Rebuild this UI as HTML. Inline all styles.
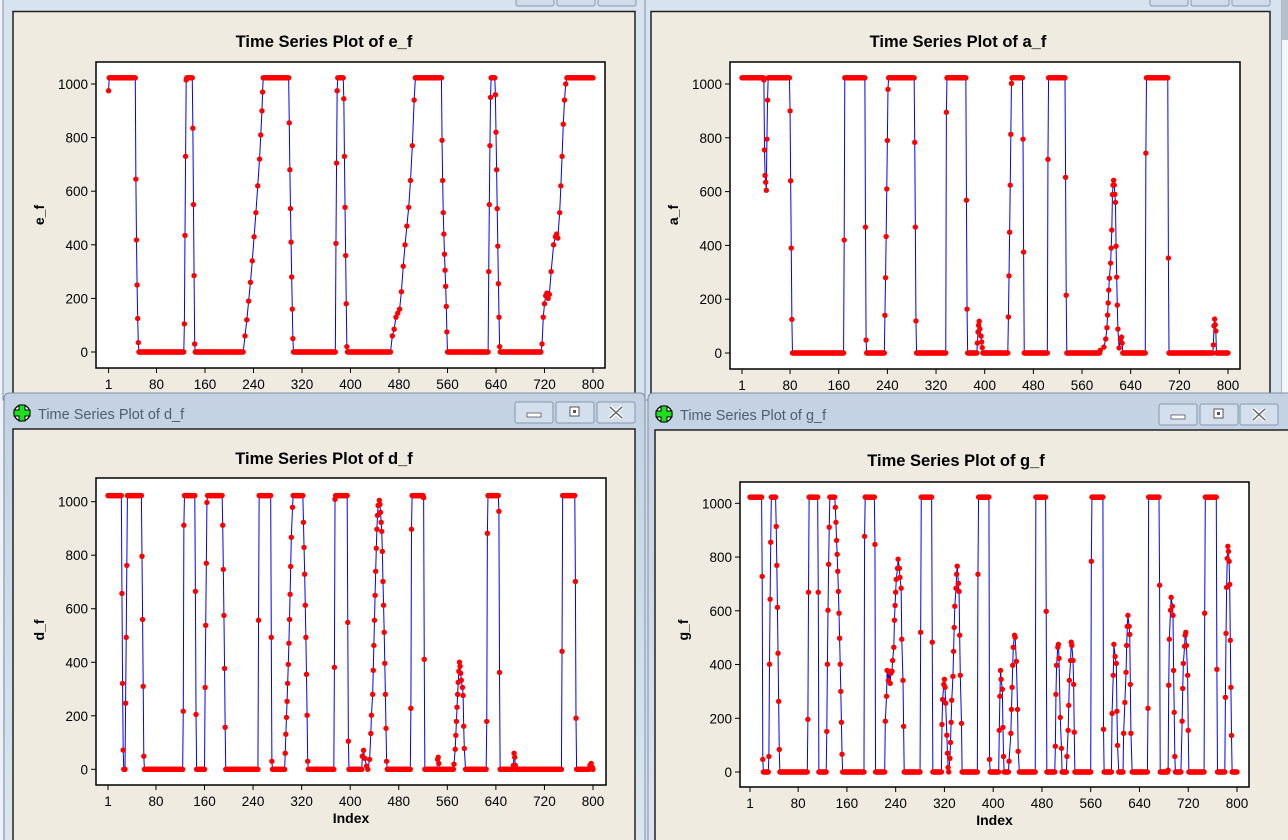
<!DOCTYPE html>
<html><head><meta charset="utf-8"><style>
html,body{margin:0;padding:0;width:1288px;height:840px;overflow:hidden;background:#d3dfec}
svg{display:block;font-family:"Liberation Sans",sans-serif}
</style></head><body>
<svg id="scr" width="1288" height="840" viewBox="0 0 1288 840" xmlns="http://www.w3.org/2000/svg">
<defs>
<linearGradient id="tb" x1="0" y1="0" x2="0" y2="1"><stop offset="0" stop-color="#c3d2e3"/><stop offset="1" stop-color="#dbe6f1"/></linearGradient>
</defs>
<rect x="0" y="0" width="1288" height="840" fill="#d3dfec"/>
<rect x="0" y="0" width="3" height="840" fill="#eef2f6"/>
<!-- top-left window -->
<g>
<rect x="3" y="-20" width="642" height="420" fill="#d7e3ef" stroke="#7f8fa3"/>
<rect x="516" y="-8" width="38" height="14" rx="2" fill="#d0dcea" stroke="#8796ab"/>
<rect x="557" y="-8" width="38" height="14" rx="2" fill="#d0dcea" stroke="#8796ab"/>
<rect x="598" y="-8" width="38" height="14" rx="2" fill="#d0dcea" stroke="#8796ab"/>
<rect x="13" y="11.5" width="622" height="400" fill="#efebe1" stroke="#222" stroke-width="1.5"/>
</g>
<!-- top-right window -->
<g>
<rect x="645" y="-20" width="637" height="420" fill="#d7e3ef" stroke="#7f8fa3"/>
<rect x="1150" y="-8" width="38" height="14" rx="2" fill="#d0dcea" stroke="#8796ab"/>
<rect x="1191" y="-8" width="38" height="14" rx="2" fill="#d0dcea" stroke="#8796ab"/>
<rect x="1232" y="-8" width="38" height="14" rx="2" fill="#d0dcea" stroke="#8796ab"/>
<rect x="651" y="11.5" width="619" height="400" fill="#efebe1" stroke="#222" stroke-width="1.5"/>
<rect x="1282" y="0" width="6" height="40" fill="#b5bec9"/>
<rect x="1282" y="40" width="6" height="360" fill="#f4f6f8"/>
</g>
<!-- bottom-left window -->
<g>
<path d="M4 860 L4 399 Q4 393 10 393 L640 393 Q645 393 645 399 L645 860 Z" fill="url(#tb)" stroke="#7f8fa3"/>
<g>
<circle cx="22" cy="413" r="8" fill="#fff" stroke="#000" stroke-width="1.3"/>
<path d="M19 405 h6 v5 h5 v6 h-5 v5 h-6 v-5 h-5 v-6 h5z" fill="#1ee01e" stroke="#000" stroke-width="1"/>
</g>
<text x="38" y="419" font-size="14.5" fill="#4f5e70">Time Series Plot of d_f</text>
<g><rect x="515" y="402" width="38" height="21" rx="2" fill="#d3dfec" stroke="#8796ab"/><rect x="527" y="413" width="14" height="4" fill="#fff" stroke="#555" stroke-width=".8"/></g>
<g><rect x="556" y="402" width="38" height="21" rx="2" fill="#d3dfec" stroke="#8796ab"/><rect x="570" y="407" width="9" height="9" fill="#fff" stroke="#555" stroke-width="1"/><rect x="573" y="410" width="3" height="3" fill="#555"/></g>
<g><rect x="597" y="402" width="38" height="21" rx="2" fill="#d3dfec" stroke="#8796ab"/><path d="M610 407 L622 418 M622 407 L610 418" stroke="#fff" stroke-width="4"/><path d="M610 407 L622 418 M622 407 L610 418" stroke="#666" stroke-width="1.5"/></g>
<rect x="13" y="429" width="622" height="420" fill="#efebe1" stroke="#222" stroke-width="1.5"/>
</g>
<!-- bottom-right window -->
<g>
<path d="M648 860 L648 399 Q648 393 654 393 L1300 393 L1300 860 Z" fill="url(#tb)" stroke="#7f8fa3"/>
<g>
<circle cx="664" cy="414" r="8" fill="#fff" stroke="#000" stroke-width="1.3"/>
<path d="M661 406 h6 v5 h5 v6 h-5 v5 h-6 v-5 h-5 v-6 h5z" fill="#1ee01e" stroke="#000" stroke-width="1"/>
</g>
<text x="680" y="420" font-size="14.5" fill="#4f5e70">Time Series Plot of g_f</text>
<g><rect x="1159" y="404" width="38" height="21" rx="2" fill="#d3dfec" stroke="#8796ab"/><rect x="1171" y="415" width="14" height="4" fill="#fff" stroke="#555" stroke-width=".8"/></g>
<g><rect x="1200" y="404" width="38" height="21" rx="2" fill="#d3dfec" stroke="#8796ab"/><rect x="1214" y="409" width="9" height="9" fill="#fff" stroke="#555" stroke-width="1"/><rect x="1217" y="412" width="3" height="3" fill="#555"/></g>
<g><rect x="1240" y="404" width="38" height="21" rx="2" fill="#d3dfec" stroke="#8796ab"/><path d="M1253 409 L1265 420 M1265 409 L1253 420" stroke="#fff" stroke-width="4"/><path d="M1253 409 L1265 420 M1265 409 L1253 420" stroke="#666" stroke-width="1.5"/></g>
<rect x="655" y="430" width="640" height="420" fill="#efebe1" stroke="#222" stroke-width="1.5"/>
</g>
<g id="charts"></g>
</svg>
<script>
// ---- data: index (x) and value (y) for each series ----
const xTickLabels = [1,80,160,240,320,400,480,560,640,720,800];
const yTickLabels = [0,200,400,600,800,1000];

const efIndex = [1,2,45, 46,47,48,49,50,51, 125,126,127,128,129,130, 139,140,141,142,143,144,
 223,226,229,232,235,238,241,244,247,250,252,254,255,256, 298,299,300,301,302,303,304,305,306,
 375,376,377,378,379, 388,389,390,391,392,393,394,395,
 466,469,472,475,478,481,484,487,490,493,496,499,502,505,507, 550,551,552,553,554,555,556,557,558,559,560,
 627,628,629,630,631,632, 638,639,640,641,642,643,644,645,646,647,
 714,716,718,720,722,724,726,728,731,735,738,740,742,745,747,749,751,753,755,757, 800];
const efValue = [975,1023,1023, 645,418,250,125,35,0, 0,105,435,730,1015,1023, 1023,835,550,285,30,0,
 0,60,120,190,260,340,430,520,620,720,810,900,970,1023, 1023,855,680,535,410,280,160,50,0,
 0,405,705,975,1023, 1023,945,730,540,360,180,20,0,
 0,60,85,130,145,160,225,320,400,470,540,640,770,940,1023, 1023,790,640,520,440,365,305,245,170,75,0,
 0,300,550,770,950,1023, 1023,960,820,680,535,395,255,130,20,0,
 0,30,130,180,210,220,200,215,300,400,430,440,425,520,620,730,850,940,1000,1023, 1023];

const afIndex = [1,36,37,38,39,40,41,42,43,44, 79,80,81,82,83,84, 168,169,170, 203,204,205,206,
 235,236,237,238,239,240,241,242, 284,285,286,287,288, 336,337,338, 369,370,371,372,
 387,388,389,390,391,392,394,395,396,397, 438,439,440,441,442,443,444,445, 462,463,464,465,
 503,504,505, 532,533,534,535,
 589,590,596,599,601,602,603,604,605,607, 608,609,610,611,612,613,614,615,616,617, 618,619,621,623,625,626,627,
 664,665,666, 701,702,703, 775,776,777,778,779,780,781,800];
const afValue = [1023,1023,1015,755,660,635,605,795,940,1023, 1023,900,640,390,125,0, 0,420,1023, 1023,468,48,0,
 0,140,280,433,610,790,980,1023, 1023,783,468,119,0, 0,895,1023, 1023,568,163,0,
 0,37,78,103,118,89,63,41,20,0, 0,134,287,449,624,813,1002,1023, 1023,795,375,0,
 0,720,1023, 1023,653,215,0,
 0,10,22,52,94,141,186,234,278,334, 390,457,589,624,642,624,590,560,397,282, 178,89,19,50,59,37,0,
 0,743,1023, 1023,353,0, 0,30,101,126,105,82,0,0];

const dfIndex = [1,23,24,25,26,27,29,30,31,32,33, 56,57,58,59,60,61, 124,125,126,127, 144,145,146,147,
 160,161,162,163,164,165, 189,190,191,192,193,194,195, 248,249,250, 269,270,271,272,
 292,293,294,295,296,297,298,299,300,301,302,303,305,306, 322,323,324,325,326,327,328,329,330,331,
 373,374,375,376, 395,396,397,398,
 419,420,422,424,427,429,432,434,435,437, 438,439,440,441,442,443,444,445,446,448, 449,450,451,452,453,454,455,456,457,458, 459,460,461,
 499,500,501,502, 520,521,522,523, 543,544,545,546,547,
 570,571,573,574,575,576,577,578,579,580, 581,582,583,585,586,587,588,590,
 624,625,626,627, 644,645,646,647, 668,669,670,671,672,673, 748,749,750, 770,771,772,773, 794,795,797,799,800];
const dfValue = [1023,1023,657,321,72,0,0,247,493,762,1023, 1023,796,560,310,49,0, 0,217,912,1023, 1023,665,205,0,
 0,306,538,770,997,1023, 1023,912,747,575,377,157,0, 0,557,1023, 1023,493,30,0,
 0,60,131,194,254,321,392,471,560,654,758,867,979,1023, 1023,923,829,729,613,493,355,202,30,0,
 0,381,1009,1023, 1023,549,105,0,
 0,49,71,41,12,0,37,134,202,280, 370,463,557,650,740,826,897,949,986,1005, 990,960,923,889,814,702,613,512,396,280, 153,30,0,
 0,228,897,1023, 1023,1015,411,0, 0,37,45,22,0,
 0,19,75,127,179,232,280,325,366,400, 385,359,333,306,276,161,78,0,
 0,179,882,1023, 1023,964,362,0, 0,15,60,45,15,0, 0,441,1023, 1023,702,191,0, 0,15,22,7,0];

const gfIndex = [1,20,21,22,23, 31,32,33,34,35,36, 43,44,45,46,47,48,49,50, 95,96,97,98, 112,113,114,
 126,127,128,129,130,131,132, 140,141,142,143,144,145,146,147,148,149,150,151,152,153, 188,189,190, 205,206,207,
 222,223,225,226,228,229,231,232,234,235, 237,238,239,240,241,243,244,246,247,249, 250,252,253,254,
 280,281,282, 299,300,301,
 315,316,317,319,320,321,322,324,325,326, 327,329,330,331,332,334,335,336,337,339, 340,341,343,344,345,346,348,349,
 374,375,376, 393,394,395,
 409,410,411,412,413,415,416,417,418, 425,426,429,430,431,432,433,435,436,438, 440,441,443,
 469,470, 486,487,488,
 501,502,503,504,506,507,508,510,512,513, 520,521,523,524,525,527,528,529,531,532, 533,534,
 560,561,562, 580,581,582,
 594,595,597,598,600,602,603,604,606, 613,614,616,618,619,620,621,623,624,625, 626,628,
 653,654,655, 672,673,674,
 686,687,688,689,691,692,694,695,696,697, 698,699,708,710,711,712,714,715,716,717, 719,720,721,
 746,747,748, 766,767,768, 780,781,782,783,784,785,786,787,788,789,790,791,792,800];
const gfValue = [1023,1023,728,47,0, 0,58,401,643,855,1023, 1023,914,769,613,442,263,84,0, 0,196,669,1023, 1023,669,0,
 0,151,401,602,773,911,1023, 1023,985,929,862,810,747,672,591,498,401,300,185,66,0, 0,877,1023, 1023,847,0,
 0,189,282,378,341,375,330,367,375,415, 464,565,620,669,717,758,792,758,724,684, 494,341,170,0,
 0,520,1023, 1023,483,0,
 0,177,270,326,345,315,256,137,70,17, 0,51,110,185,267,356,449,538,617,684, 736,766,702,672,509,360,181,0,
 0,736,1023, 1023,47,0,
 0,155,282,378,345,308,166,58,0, 0,40,144,233,315,397,464,509,501,412, 233,77,0,
 0,1023, 1023,598,0,
 0,96,289,397,464,475,423,203,88,0, 0,58,155,248,341,415,483,471,415,326, 148,0,
 0,784,1023, 1023,159,0,
 0,218,360,475,430,404,226,99,0, 0,144,259,371,471,542,583,542,512,326, 144,0,
 0,237,1023, 1023,695,0,
 0,7,323,494,602,650,617,583,378,222, 58,0,0,189,311,404,468,509,520,471, 360,155,0,
 0,591,1023, 1023,382,0, 0,278,516,687,795,840,821,784,698,490,315,136,0,0];

const NS = 'http://www.w3.org/2000/svg';
function mk(tag, attrs, parent){
  const e = document.createElementNS(NS, tag);
  for (const k in attrs) e.setAttribute(k, attrs[k]);
  parent.appendChild(e);
  return e;
}
const chartDefs = [
  {key:'e', label:'e_f', idx:efIndex, val:efValue, L:96, T:62, R:605, B:368, x1:108.6, x800:593, y0:352, y1000:84, tx:324, ty:47, yl:[44,215], index:false},
  {key:'a', label:'a_f', idx:afIndex, val:afValue, L:730, T:62, R:1240, B:369, x1:742, x800:1228, y0:353, y1000:84, tx:958, ty:47, yl:[678,215], index:false},
  {key:'d', label:'d_f', idx:dfIndex, val:dfValue, L:96, T:478, R:606, B:785, x1:108, x800:593, y0:769.3, y1000:501.7, tx:324, ty:464, yl:[44,630], index:true},
  {key:'g', label:'g_f', idx:gfIndex, val:gfValue, L:740, T:482, R:1249, B:787, x1:750, x800:1237, y0:772, y1000:503.3, tx:956, ty:466, yl:[688,630], index:true}
];
const root = document.getElementById('charts');
chartDefs.forEach(c => {
  const xs = i => c.x1 + (i - 1) * (c.x800 - c.x1) / 799;
  const ys = v => c.y0 + v * (c.y1000 - c.y0) / 1000;
  const g = mk('g', {}, root);
  
  
  const t = mk('text', {x:c.tx, y:c.ty, 'text-anchor':'middle', 'font-size':'16.5', 'font-weight':'bold', fill:'#000'}, g);
  t.textContent = 'Time Series Plot of ' + c.label;
  
  
  const fr = mk('rect', {x:c.L, y:c.T, width:c.R - c.L, height:c.B - c.T, fill:'#fff', stroke:'#000', 'stroke-width':'1.5'}, g);
  
  
  const yt = mk('text', {x:c.yl[0], y:c.yl[1], 'text-anchor':'middle', 'font-size':'14', 'font-weight':'bold', transform:'rotate(-90 ' + c.yl[0] + ' ' + c.yl[1] + ')'}, g);
  yt.textContent = c.label;
  
  
  if (c.index) {
    const xt = mk('text', {x:(c.L + c.R) / 2, y:c.B + 38, 'text-anchor':'middle', 'font-size':'14', 'font-weight':'bold'}, g);
    xt.textContent = 'Index';
    
    
  }
  yTickLabels.forEach(v => {
    const y = ys(v);
    const tk = mk('line', {x1:c.L - 5, x2:c.L, y1:y, y2:y, stroke:'#000', 'stroke-width':'1'}, g);
    
    
    const tl = mk('text', {x:c.L - 8, y:y + 5, 'text-anchor':'end', 'font-size':'13.5', fill:'#000'}, g);
    tl.textContent = v;
    
    
  });
  xTickLabels.forEach(v => {
    const x = xs(v);
    const tk = mk('line', {x1:x, x2:x, y1:c.B, y2:c.B + 5, stroke:'#000', 'stroke-width':'1'}, g);
    
    
    const tl = mk('text', {x:x, y:c.B + 21, 'text-anchor':'middle', 'font-size':'13.5', fill:'#000'}, g);
    tl.textContent = v;
    
    
  });
  const n = Math.min(c.idx.length, c.val.length);
  let d = '';
  for (let k = 0; k < n; k++) d += (k ? 'L' : 'M') + xs(c.idx[k]).toFixed(2) + ' ' + ys(c.val[k]).toFixed(2);
  const ln = mk('path', {d:d, fill:'none', stroke:'#0000ff', 'stroke-width':'1'}, g);
  
  
  const pg = mk('g', {fill:'#ff0000'}, g);
  
  
  for (let k = 0; k < n; k++) {
    const p = mk('circle', {cx:xs(c.idx[k]).toFixed(2), cy:ys(c.val[k]).toFixed(2), r:'2.7'}, pg);
    
    
    // repeated constant value between equal neighbours (plateau runs)
    if (k + 1 < n && c.val[k + 1] === c.val[k]) {
      for (let i = c.idx[k] + 1; i < c.idx[k + 1]; i++) {
        const q = mk('circle', {cx:xs(i).toFixed(2), cy:ys(c.val[k]).toFixed(2), r:'2.7'}, pg);
        
        
      }
    }
  }
});
</script>
</body></html>
